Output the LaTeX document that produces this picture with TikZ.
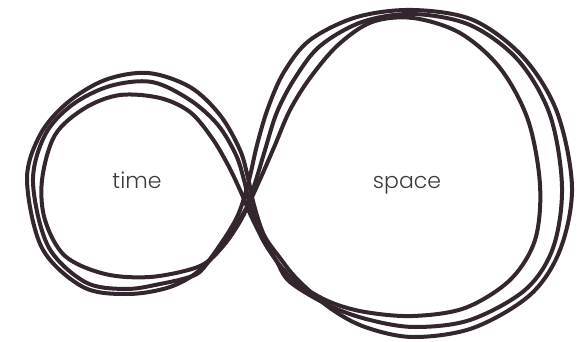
\documentclass[tikz,border=0pt]{standalone}
\usepackage{fontspec}
\setmainfont{Poppins}[UprightFont={* Light}]
\usepackage{tikz}
\definecolor{inkdark}{RGB}{52,38,46}
\definecolor{textgrey}{RGB}{58,58,60}

\begin{document}
\begin{tikzpicture}[x=1pt,y=-1pt,line join=round,line cap=round] %One unit is one pixel of the 581 by 342 sheet, y runs downwards
\useasboundingbox (0,0) rectangle (581,342); %Fixes the size of the sheet
\tikzset{pen/.style={draw=inkdark,line width=4pt}, word/.style={text=textgrey,anchor=base,font=\fontsize{22}{22}\selectfont}}
%Outer stroke of the figure eight (crossing, right loop, crossing again, left loop):
\draw[pen] plot[smooth cycle,tension=0.55] coordinates {(240,150) (248,178) (254,205) (264,235) (280,258) (298,280) (330,308) (365,327) (413,337) (473,328) (530,295) (560,250) (572,187) (557,112) (523,57) (473,20) (413,10) (357,17) (310,40) (284,72) (268,108) (257,145) (249,180) (238,215) (220,245) (200,270) (170,287) (128,294) (83,287) (42,248) (27,180) (40,135) (67,103) (105,80) (148,73) (190,87) (220,115)};
%Middle stroke:
\draw[pen] plot[smooth cycle,tension=0.55] coordinates {(218,125) (236,155) (244,180) (250,205) (262,238) (276,260) (290,282) (330,306) (370,320) (415,327) (470,320) (525,290) (553,248) (562,187) (550,115) (518,60) (470,25) (413,14) (362,22) (320,46) (295,78) (277,112) (265,150) (256,180) (245,212) (228,240) (210,260) (195,275) (160,284) (125,289) (85,282) (48,246) (33,182) (45,135) (72,105) (110,86) (152,82) (190,100)};
%Inner stroke:
\draw[pen] plot[smooth cycle,tension=0.55] coordinates {(212,138) (228,165) (240,190) (252,218) (266,245) (282,268) (300,285) (330,302) (365,312) (413,316) (465,308) (510,280) (535,240) (540,185) (528,120) (500,68) (460,33) (413,18) (372,22) (338,45) (310,78) (290,110) (275,145) (262,175) (248,205) (232,232) (215,255) (195,268) (150,277) (105,274) (65,256) (45,220) (42,180) (55,135) (85,108) (120,95) (160,98) (190,112)};
%Labels of the two loops:
\node[word] (time) at (137,188) {time};
\node[word] (space) at (407,188) {space};
\end{tikzpicture}
\end{document}
